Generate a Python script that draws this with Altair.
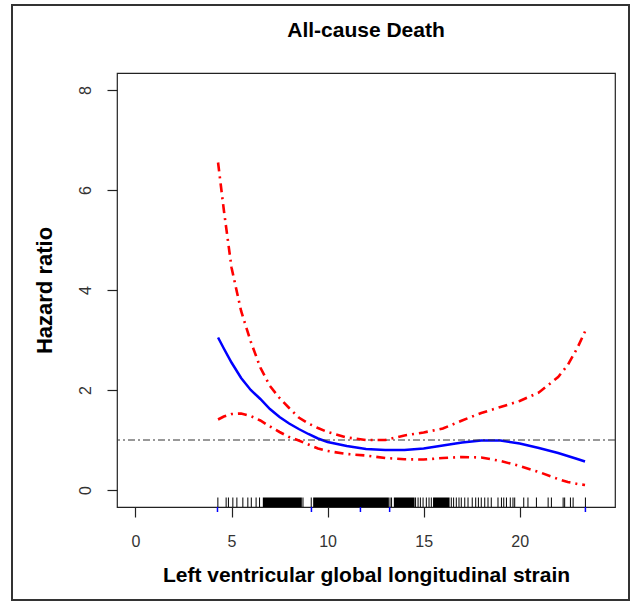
import altair as alt
import pandas as pd

# ---- data ----
x_grid = [4.3, 4.6, 5.0, 5.5, 6.0, 6.5, 7.0, 7.5, 8.0, 8.5, 9.0, 9.5, 10.0, 11.0,
          12.0, 13.0, 14.0, 15.0, 16.0, 17.0, 18.0, 19.0, 20.0, 21.0, 22.0, 22.5, 23.0, 23.4]
hr = [3.05, 2.83, 2.55, 2.24, 2.00, 1.82, 1.62, 1.46, 1.33, 1.22, 1.12, 1.03, 0.96, 0.88,
      0.82, 0.80, 0.80, 0.83, 0.89, 0.95, 0.99, 0.99, 0.93, 0.84, 0.74, 0.68, 0.62, 0.57]
lower = [1.41, 1.47, 1.52, 1.53, 1.48, 1.39, 1.27, 1.16, 1.06, 0.99, 0.91, 0.83, 0.78, 0.72,
         0.69, 0.64, 0.615, 0.61, 0.64, 0.66, 0.65, 0.58, 0.48, 0.36, 0.22, 0.16, 0.12, 0.10]
upper = [6.55, 5.60, 4.45, 3.58, 2.97, 2.45, 2.08, 1.84, 1.64, 1.45, 1.33, 1.24, 1.16, 1.05,
         1.00, 1.00, 1.09, 1.15, 1.23, 1.39, 1.54, 1.66, 1.78, 1.95, 2.26, 2.50, 2.84, 3.17]

rug_ticks = [4.29, 4.72, 4.84, 5.07, 5.28, 5.59, 5.85, 6.03, 6.28, 6.46, 8.72, 9.15,
             13.25, 13.33, 14.58, 14.71, 14.83, 14.97, 15.14, 15.28, 15.40,
             16.44, 16.56, 16.70, 16.84, 16.96, 17.14, 17.31, 17.53, 17.71, 17.85,
             18.00, 18.18, 18.35, 18.52, 18.87, 19.05, 19.17, 19.31, 19.51, 19.65,
             19.74, 20.21, 20.43, 20.87, 21.48, 21.65, 22.26, 22.34, 22.64, 22.78, 23.42]
rug_band_start = [6.63, 9.25, 13.45, 15.49]
rug_band_end = [8.66, 13.19, 14.53, 16.35]
knots = [4.27, 9.16, 11.71, 13.23, 23.42]
ref_value = 1

x_ticks = [0, 5, 10, 15, 20]
y_ticks = [0, 2, 4, 6, 8]
title_text = "All-cause Death"

FONT = "Liberation Sans"
W, H = 498, 434

curves = pd.DataFrame({"x": x_grid, "hr": hr, "lower": lower, "upper": upper})
rug = pd.DataFrame({"x": rug_ticks})
bands = pd.DataFrame({"x": rug_band_start, "x2": rug_band_end})
knot_df = pd.DataFrame({"x": knots})

xscale = alt.Scale(domain=[-0.96, 24.96], nice=False, zero=False)
yscale = alt.Scale(domain=[-0.34, 8.34], nice=False, zero=False)

x_axis = alt.Axis(values=x_ticks, title="Left ventricular global longitudinal strain",
                  tickSize=10, labelPadding=16, titlePadding=15, titleFontSize=21,
                  domain=False, grid=False)
y_axis = alt.Axis(values=y_ticks, title="Hazard ratio", tickSize=10, labelAngle=270,
                  labelAlign="center", labelBaseline="bottom", labelPadding=14,
                  titlePadding=21, titleFontSize=22, domain=False, grid=False)


def X(field):
    return alt.X(field, scale=xscale, axis=x_axis)


def Y(field):
    return alt.Y(field, scale=yscale, axis=y_axis)


main = alt.Chart(curves).mark_line(color="#0000ff", strokeWidth=2.5).encode(
    x=X("x:Q"), y=Y("hr:Q"))
lo = alt.Chart(curves).mark_line(color="#ff0000", strokeWidth=2.6, strokeDash=[9, 5, 2, 5]).encode(
    x=X("x:Q"), y=Y("lower:Q"))
up = alt.Chart(curves).mark_line(color="#ff0000", strokeWidth=2.6, strokeDash=[9, 5, 2, 5]).encode(
    x=X("x:Q"), y=Y("upper:Q"))
ref = alt.Chart(pd.DataFrame({"v": [ref_value]})).mark_rule(
    color="#333333", strokeWidth=1, strokeDash=[7, 3, 2, 3]).encode(y=Y("v:Q"))
rug_layer = alt.Chart(rug).mark_rule(color="black", strokeWidth=1).encode(
    x=X("x:Q"),
    y=alt.YDatum(-0.34, scale=yscale, axis=y_axis), y2=alt.datum(-0.15),
)
band_layer = alt.Chart(bands).mark_rect(color="black").encode(
    x=X("x:Q"), x2="x2:Q",
    y=alt.YDatum(-0.34, scale=yscale, axis=y_axis), y2=alt.datum(-0.15),
)
knot_layer = alt.Chart(knot_df).mark_rule(color="#0000ff", strokeWidth=1.5).encode(
    x=X("x:Q"), y=alt.value(H), y2=alt.value(H + 5),
)
title_layer = alt.Chart(pd.DataFrame({"t": [title_text]})).mark_text(
    font=FONT, fontSize=21, fontWeight="bold", color="black", baseline="middle",
    align="center").encode(text="t:N", x=alt.value(W / 2), y=alt.value(-42))
frame = alt.Chart(pd.DataFrame({"a": [0]})).mark_rect(
    fill=None, stroke="#333333", strokeWidth=2).encode(
    x=alt.value(-105), x2=alt.value(512), y=alt.value(-68), y2=alt.value(527),
)

chart = alt.layer(main, band_layer, rug_layer, knot_layer, ref, lo, up, title_layer, frame).properties(
    width=W, height=H,
    autosize=alt.AutoSizeParams(type="none"),
    padding={"left": 117, "top": 73, "right": 23, "bottom": 97},
).configure_view(stroke="#222222", strokeWidth=1.2).configure_axis(
    labelFont=FONT, labelFontSize=16, labelColor="#333333",
    titleFont=FONT, titleFontWeight="bold", titleColor="black",
    tickColor="#222222", tickWidth=1.2,
)

chart.save("out.html", embed_options={"renderer": "svg", "actions": False})
